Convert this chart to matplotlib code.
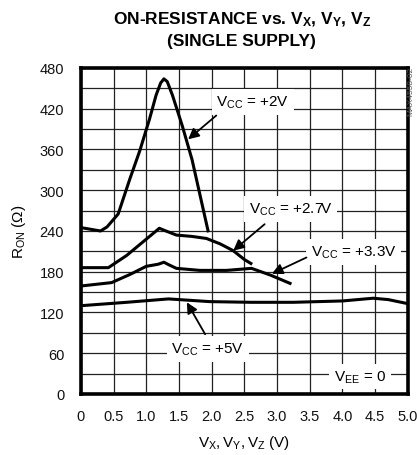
import matplotlib
matplotlib.use("Agg")
import matplotlib.pyplot as plt
from matplotlib import font_manager as fm

names = {f.name for f in fm.fontManager.ttflist}
FONT = 'Liberation Sans Narrow' if 'Liberation Sans Narrow' in names else 'Liberation Sans'
plt.rcParams['font.family'] = [FONT, 'DejaVu Sans']
plt.rcParams['mathtext.fontset'] = 'custom'
plt.rcParams['mathtext.rm'] = FONT
plt.rcParams['mathtext.it'] = FONT
plt.rcParams['mathtext.bf'] = FONT + ':bold'

# Data
x_2v = [0.0, 0.3, 0.4, 0.57, 0.75, 0.9, 1.05, 1.15, 1.22, 1.27, 1.32, 1.4, 1.55, 1.7, 1.95]
r_2v = [245, 240, 246, 265, 317, 358, 405, 440, 458, 464, 460, 440, 395, 345, 238]

x_27v = [0.0, 0.42, 0.7, 1.0, 1.2, 1.3, 1.46, 1.7, 1.92, 2.13, 2.33, 2.5, 2.62]
r_27v = [186, 186, 204, 228, 244, 240, 234, 232, 229, 221, 211, 198, 191]

x_33v = [0.0, 0.47, 0.75, 1.0, 1.18, 1.27, 1.35, 1.46, 1.82, 2.23, 2.61, 2.9, 3.22]
r_33v = [159, 164, 176, 188, 191, 194, 190, 185, 182, 182, 185, 175, 162]

x_5v = [0.0, 0.7, 1.34, 1.97, 2.6, 3.25, 4.0, 4.47, 4.7, 5.0]
r_5v = [130, 135, 140, 136, 135, 135, 137, 141, 139, 133]

x_ticks = [0, 0.5, 1.0, 1.5, 2.0, 2.5, 3.0, 3.5, 4.0, 4.5, 5.0]
x_ticklabels = ['0', '0.5', '1.0', '1.5', '2.0', '2.5', '3.0', '3.5', '4.0', '4.5', '5.0']
y_ticks = [0, 60, 120, 180, 240, 300, 360, 420, 480]

fig = plt.figure(figsize=(4.17, 4.56), dpi=100)
ax = fig.add_axes([0.194, 0.1338, 0.784, 0.7149])

for xs, ys in [(x_2v, r_2v), (x_27v, r_27v), (x_33v, r_33v), (x_5v, r_5v)]:
    ax.plot(xs, ys, color='black', lw=2.2, zorder=5, solid_capstyle='butt',
            solid_joinstyle='round')

ax.set_xlim(0, 5)
ax.set_ylim(0, 480)
ax.set_xticks(x_ticks)
ax.set_xticklabels(x_ticklabels)
ax.set_yticks(y_ticks)
ax.set_xticks([i * 0.5 for i in range(11)], minor=True)
ax.set_yticks([i * 30 for i in range(17)], minor=True)
ax.grid(True, which='both', color='#222222', lw=0.9, zorder=1)
ax.tick_params(which='both', length=0, labelsize=10.5, colors='#111111')
ax.tick_params(axis='x', pad=11)
ax.tick_params(axis='y', pad=12)
for s in ax.spines.values():
    s.set_linewidth(2.6)
    s.set_zorder(10)

ax.set_xlabel(r'$\mathregular{V_X, V_Y, V_Z}$ (V)', fontsize=11, labelpad=7)
ax.set_ylabel(r'$\mathregular{R_{ON}}$ ($\mathregular{\Omega}$)', fontsize=11, labelpad=8)

fig.text(0.580, 0.957, r'ON-RESISTANCE vs. $\mathbf{V_X}$, $\mathbf{V_Y}$, $\mathbf{V_Z}$',
         ha='center', va='center', fontsize=12.5, fontweight='bold')
fig.text(0.580, 0.910, '(SINGLE SUPPLY)', ha='center', va='center', fontsize=12.5, fontweight='bold')

fig.text(0.985, 0.80, 'MAX4558-02', rotation=90, ha='center', va='center', fontsize=6, color='#555555')

bbox = dict(boxstyle='square,pad=0.3', fc='white', ec='none')
labels = [
    (r'$\mathregular{V_{CC}}$ = +2V', 2.63, 430, (2.07, 410), (1.64, 375)),
    (r'$\mathregular{V_{CC}}$ = +2.7V', 3.21, 272, (2.81, 250), (2.33, 211)),
    (r'$\mathregular{V_{CC}}$ = +3.3V', 4.17, 209, (3.45, 201), (2.92, 177)),
    (r'$\mathregular{V_{CC}}$ = +5V', 1.94, 66, (1.90, 88), (1.62, 135)),
]
for txt, tx, ty, tail, tip in labels:
    ax.text(tx, ty, txt, ha='center', va='center', fontsize=11, bbox=bbox, zorder=3)
    ax.annotate('', xy=tip, xytext=tail,
                arrowprops=dict(arrowstyle='-|>', color='black', lw=1.3,
                                mutation_scale=16, shrinkA=0, shrinkB=0), zorder=6)
ax.text(4.27, 26, r'$\mathregular{V_{EE}}$ = 0', ha='center', va='center', fontsize=11,
        bbox=bbox, zorder=3)

fig.savefig('out.png', dpi=100)
